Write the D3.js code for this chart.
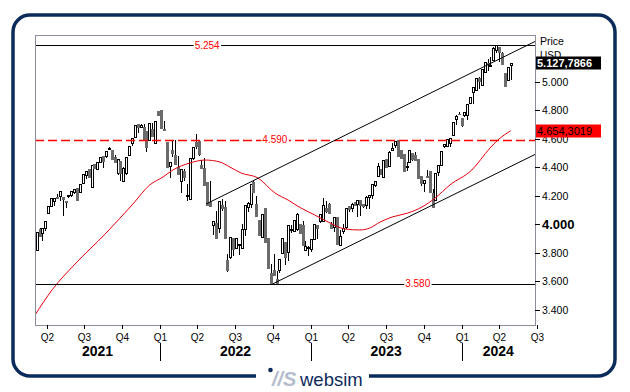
<!DOCTYPE html>
<html><head><meta charset="utf-8">
<script src="https://cdn.jsdelivr.net/npm/d3@7"></script>
<style>
body{margin:0;background:#fff}
svg{display:block}
text{font-family:Arial,"Liberation Sans",sans-serif}
</style>
</head><body>
<svg id="chart" width="630" height="392"></svg>
<script>
// ---------- DATA (weekly S&P 500 style candles) ----------
const firstWeek = "2021-03-08";
const opens = [
3821,3968,3940,3971,4078,4128,4163,4187,4193,4189,4163,4198,4202,4226,4255,4224,4291,4343,4385,4259,4422,4387,4432,4480,4480,4529,4520,4469,4358,4443,4300,4361,4487,4567,4614,4702,4682,4682,4655,4592,4669,4568,4791,
4797,4670,4577,4410,4516,4484,4401,4305,4374,4201,4173,4461,4575,4583,4413,4391,4297,4155,3991,4008,3974,4132,4121,3750,3765,3901,3831,3855,3831,3967,4119,4140,4297,4138,4031,3908,4110,3900,3655,3678,3612,3678,3798,3872,3807,3957,3950,3964,3999,3991,3818,3829,
3824,3893,3991,4020,4018,4111,4137,3997,3982,4048,3856,3951,3978,4124,4109,4151,4137,4168,4138,4136,4192,4206,4273,4338,4389,4328,4456,4409,4522,4554,4589,4518,4490,4400,4433,4497,4487,4454,4337,4288,4336,4374,4217,4167,4365,4412,4547,4550,4569,4622,4740,4775,
4743,4764,4766,4851,4928,4942,5022,4976,5070,5131,5117,5149,5218,5243,5202,5062,5011,5116];
const highs = [
3943,3974,3974,4020,4129,4185,4180,4211,4233,4189,4163,4204,4230,4247,4255,4281,4352,4370,4385,4412,4422,4437,4468,4480,4509,4537,4520,4481,4455,4443,4399,4471,4549,4605,4697,4702,4705,4701,4655,4712,4710,4726,4793,
4797,4726,4577,4432,4589,4588,4475,4385,4387,4278,4463,4543,4632,4583,4447,4463,4297,4300,4024,4089,4158,4177,4161,3790,3912,3901,3903,3863,3999,4130,4155,4280,4305,4199,4031,4067,4110,3900,3719,3791,3670,3753,3901,3872,3993,3992,4028,4080,3999,4019,3879,3849,
3895,3999,3991,4071,4180,4164,4148,4012,4046,4048,3960,4003,4109,4124,4146,4154,4169,4168,4138,4198,4205,4282,4299,4426,4389,4450,4456,4510,4565,4582,4589,4518,4490,4436,4516,4497,4505,4454,4337,4309,4377,4374,4248,4358,4415,4514,4559,4595,4604,4719,4768,4783,
4743,4784,4840,4894,4959,5027,5030,5089,5137,5158,5175,5241,5254,5243,5210,5062,5072,5128];
const lows = [
3821,3913,3889,3959,4074,4124,4135,4181,4165,4063,4116,4188,4193,4220,4166,4224,4291,4320,4327,4259,4395,4387,4432,4400,4470,4523,4459,4433,4354,4308,4300,4351,4487,4551,4614,4646,4682,4595,4513,4592,4621,4568,4766,
4677,4659,4398,4327,4477,4419,4349,4226,4306,4171,4173,4456,4530,4481,4392,4272,4132,4123,3930,3901,3941,4101,3901,3667,3760,3785,3831,3790,3831,3921,4091,4122,4228,4058,3924,3908,3873,3693,3586,3640,3577,3666,3798,3720,3749,3947,3950,3958,3934,3852,3818,3783,
3809,3893,3899,4016,4018,4082,4079,3970,3951,3862,3856,3937,3971,4091,4092,4130,4056,4061,4119,4110,4115,4180,4268,4338,4348,4328,4399,4409,4522,4537,4478,4464,4370,4376,4433,4451,4450,4320,4274,4229,4327,4224,4117,4167,4347,4412,4538,4550,4549,4622,4699,4770,
4689,4756,4739,4851,4846,4942,4953,4976,5069,5079,5117,5149,5204,5147,5123,4967,5011,5018];
const closes = [
3943,3913,3974,4020,4129,4185,4180,4181,4233,4174,4156,4204,4230,4247,4166,4281,4352,4370,4327,4412,4395,4437,4468,4442,4509,4535,4459,4433,4455,4357,4391,4471,4545,4605,4697,4683,4698,4595,4538,4712,4621,4726,4766,
4677,4663,4398,4432,4501,4419,4349,4385,4329,4204,4463,4543,4546,4488,4392,4272,4132,4123,4024,3901,4158,4109,3901,3675,3912,3825,3899,3863,3962,4130,4145,4280,4228,4058,3924,4067,3873,3693,3586,3640,3583,3753,3901,3771,3993,3965,4026,4072,3934,3852,3845,3840,
3895,3999,3973,4071,4136,4090,4079,3970,4046,3862,3917,3971,4109,4105,4138,4133,4169,4136,4124,4192,4205,4282,4299,4410,4348,4450,4399,4505,4536,4582,4478,4464,4370,4406,4516,4457,4450,4320,4288,4309,4327,4224,4117,4358,4415,4514,4559,4595,4604,4719,4755,4770,
4697,4784,4840,4891,4959,5027,5006,5089,5137,5124,5117,5234,5254,5204,5123,4967,5100,5128];

// red moving average
const maDates = ["2021-03-04","2021-04-15","2021-06-09","2021-08-21","2021-10-27","2021-12-07","2022-01-08","2022-02-01","2022-03-14","2022-04-20","2022-05-26","2022-06-19","2022-07-16","2022-08-26","2022-10-06","2022-11-07","2022-12-08","2023-01-11","2023-02-12","2023-03-25","2023-04-30","2023-05-24","2023-06-18","2023-07-17","2023-08-24","2023-09-27","2023-10-29","2023-12-04","2024-01-26","2024-03-10","2024-03-29","2024-04-29"];
const maValues = [3361,3540,3719,3930,4140,4274,4330,4379,4428,4449,4435,4400,4358,4323,4218,4168,4112,4063,4014,3965,3958,3972,4014,4049,4077,4119,4182,4274,4379,4533,4589,4654];

const levelValues = [5254, 4590, 3580];
const levelLabels = ["5.254", "4.590", "3.580"];
const levelLabelDates = ["2022-04-25", "2022-10-06", "2023-09-17"];
const trendUpper = [["2022-04-22", 4140], ["2024-06-27", 5281]];
const trendLower = [["2022-10-01", 3580], ["2024-06-27", 4488]];
const priceTicks = [3400, 3600, 3800, 4000, 4200, 4400, 4600, 4800, 5000];
const boldTick = 4000;
const yearLabels = ["2021", "2022", "2023", "2024"];
const lastPrice = 5127.7866;
const lastMA = 4654.3019;
const domainStart = "2021-03-04", domainEnd = "2024-06-27";

// ---------- CHART ----------
const parse = d3.utcParse("%Y-%m-%d");
const loc = d3.formatLocale({decimal: ",", thousands: ".", grouping: [3], currency: ["", ""]});
const fTick = loc.format(",d"), fPrice = loc.format(",.4f");

const svg = d3.select("#chart");
const L = 35, R = 535, T = 35, B = 325;
const x = d3.scaleUtc().domain([parse(domainStart), parse(domainEnd)]).range([L, R]);
const y = d3.scaleLinear().domain([3400, 5000]).range([309.5, 81.5]);

const weeks = d3.utcMonday.range(parse(firstWeek), d3.utcDay.offset(parse(firstWeek), 7 * opens.length));
const candles = weeks.map((d, i) => ({d, o: opens[i], h: highs[i], l: lows[i], c: closes[i]}));

const navy = "#0b2b5b";
// outer frame
svg.append("rect").attr("x", 13).attr("y", 15).attr("width", 602).attr("height", 361)
  .attr("rx", 17).attr("fill", "none").attr("stroke", navy).attr("stroke-width", 3.5);
// logo gap
svg.append("rect").attr("x", 256).attr("y", 368).attr("width", 113).attr("height", 24).attr("fill", "#fff");
svg.append("circle").attr("cx", 270.5).attr("cy", 370).attr("r", 2.3).attr("fill", navy);
svg.append("text").attr("x", 272).attr("y", 386).attr("font-size", 20).attr("font-style", "italic")
  .attr("font-weight", "bold").attr("fill", "#b3bdcc").text("//S");
svg.append("text").attr("x", 300).attr("y", 386).attr("font-size", 18.5).attr("fill", navy).text("websim");

// plot box
svg.append("rect").attr("x", L + 0.5).attr("y", T + 0.5).attr("width", R - L).attr("height", B - T)
  .attr("fill", "#fff").attr("stroke", "#8c8c9c").attr("stroke-width", 1);

svg.append("clipPath").attr("id", "clip").append("rect").attr("x", L + 1).attr("y", T + 1).attr("width", R - L - 1).attr("height", B - T - 1);
const g = svg.append("g").attr("clip-path", "url(#clip)");

// candles
const cg = g.append("g");
candles.forEach(k => {
  const cx = Math.round(x(k.d));
  cg.append("line").attr("x1", cx + 0.5).attr("x2", cx + 0.5)
    .attr("y1", Math.round(y(k.h))).attr("y2", Math.round(y(k.l)) + 1)
    .attr("stroke", "#000").attr("stroke-width", 1);
  const top = Math.round(y(Math.max(k.o, k.c))), bot = Math.round(y(Math.min(k.o, k.c)));
  if (k.c >= k.o) {
    cg.append("rect").attr("x", cx - 0.5).attr("y", top + 0.5).attr("width", 2).attr("height", Math.max(1, bot - top))
      .attr("fill", "#fff").attr("stroke", "#000").attr("stroke-width", 1);
  } else {
    cg.append("rect").attr("x", cx - 1).attr("y", top).attr("width", 3).attr("height", Math.max(1, bot - top + 1))
      .attr("fill", "#6b6b6b");
  }
});

// moving average
g.append("path").datum(maDates.map((d, i) => [parse(d), maValues[i]]))
  .attr("d", d3.line().x(d => x(d[0])).y(d => y(d[1])).curve(d3.curveMonotoneX))
  .attr("fill", "none").attr("stroke", "#e8000b").attr("stroke-width", 1);

// horizontal levels
levelValues.forEach((v, i) => {
  const yy = Math.round(y(v)) + 0.5;
  g.append("line").attr("x1", L).attr("x2", R).attr("y1", yy).attr("y2", yy)
    .attr("stroke", i === 1 ? "#ff0000" : "#000").attr("stroke-width", i === 1 ? 1.5 : 1)
    .attr("stroke-dasharray", i === 1 ? "9,4" : null);
});
// trend lines
[trendUpper, trendLower].forEach(t => {
  g.append("line").attr("x1", x(parse(t[0][0]))).attr("y1", y(t[0][1]))
    .attr("x2", x(parse(t[1][0]))).attr("y2", y(t[1][1]))
    .attr("stroke", "#000").attr("stroke-width", 1);
});
// level labels
levelValues.forEach((v, i) => {
  const cx = x(parse(levelLabelDates[i])), yy = y(v);
  const t = g.append("text").attr("x", cx).attr("y", yy + 3.5).attr("text-anchor", "middle")
    .attr("font-size", 10).attr("fill", "#ff0000").text(levelLabels[i]);
  const bb = t.node().getBBox();
  g.insert("rect", () => t.node()).attr("x", bb.x - 1).attr("y", bb.y).attr("width", bb.width + 2).attr("height", bb.height).attr("fill", "#fff");
});

// right axis
const ax = svg.append("g");
ax.append("text").attr("x", 540).attr("y", 45).attr("font-size", 10.5).text("Price");
ax.append("text").attr("x", 540).attr("y", 59).attr("font-size", 10).text("USD");
priceTicks.forEach(v => {
  const yy = Math.round(y(v)) + 0.5;
  ax.append("line").attr("x1", R).attr("x2", R + 5).attr("y1", yy).attr("y2", yy).attr("stroke", "#000");
  ax.append("text").attr("x", R + 7).attr("y", yy + (v === boldTick ? 4.5 : 3.5))
    .attr("font-size", v === boldTick ? 13 : 10.5).attr("font-weight", v === boldTick ? "bold" : "normal")
    .attr("fill", "#000").text(fTick(v));
});
// value tags
[[lastPrice, "#000", "#fff", "bold"], [lastMA, "#ff0000", "#000", "normal"]].forEach(([v, bg, fg, fw]) => {
  const yy = y(v);
  ax.append("rect").attr("x", 536).attr("y", Math.round(yy) - 6.5).attr("width", 65).attr("height", 13).attr("fill", bg);
  ax.append("text").attr("x", 537).attr("y", Math.round(yy) + 4).attr("font-size", 11).attr("font-weight", fw)
    .attr("fill", fg).text(fPrice(v));
});

// bottom axis: quarters
const quarters = d3.utcMonth.every(3).range(parse("2021-04-01"), parse("2024-07-02"));
quarters.forEach(q => {
  const xx = Math.round(x(q)) + 0.5;
  svg.append("line").attr("x1", xx).attr("x2", xx).attr("y1", B).attr("y2", B + 4).attr("stroke", "#000");
  svg.append("text").attr("x", xx).attr("y", 341).attr("text-anchor", "middle").attr("font-size", 10)
    .text("Q" + (Math.floor(q.getUTCMonth() / 3) + 1));
});
// years
const yearStarts = yearLabels.map(yv => parse(yv + "-01-01"));
yearLabels.forEach((yl, i) => {
  const a = Math.max(L, x(yearStarts[i]));
  const b = i < yearLabels.length - 1 ? x(yearStarts[i + 1]) : R;
  svg.append("text").attr("x", (a + b) / 2).attr("y", 356).attr("text-anchor", "middle")
    .attr("font-size", 14).attr("font-weight", "bold").text(yl);
  if (i > 0) {
    const xx = Math.round(x(yearStarts[i])) + 0.5;
    svg.append("line").attr("x1", xx).attr("x2", xx).attr("y1", 343).attr("y2", 361).attr("stroke", "#000");
  }
});
</script>
</body></html>
